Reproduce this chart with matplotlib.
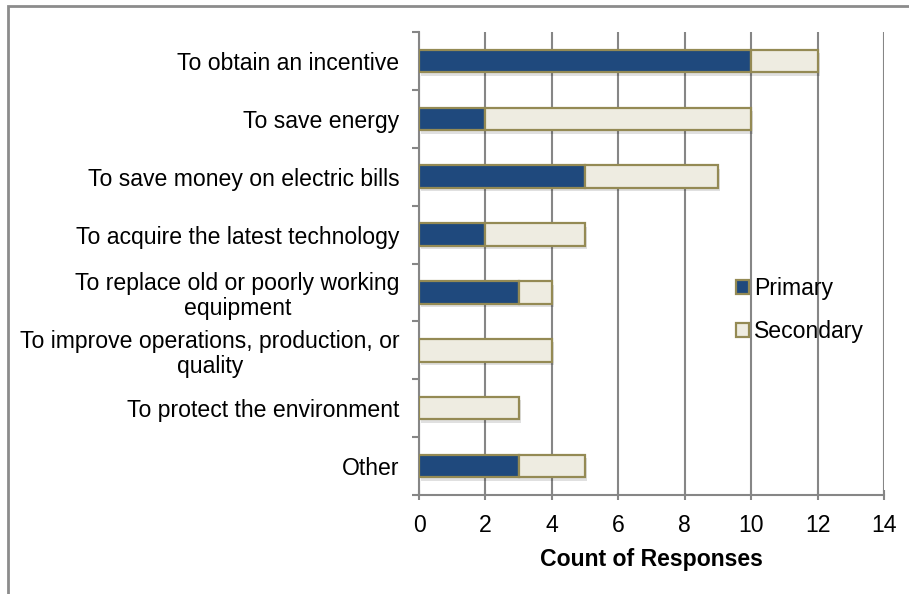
import matplotlib
matplotlib.use("Agg")
import matplotlib.pyplot as plt
from matplotlib.patches import Rectangle
from matplotlib import patheffects as pe

plt.rcParams['font.family'] = ['Liberation Sans', 'DejaVu Sans']

categories = [
    "To obtain an incentive",
    "To save energy",
    "To save money on electric bills",
    "To acquire the latest technology",
    "To replace old or poorly working\nequipment",
    "To improve operations, production, or\nquality",
    "To protect the environment",
    "Other",
]
primary = [10, 2, 5, 2, 3, 0, 0, 3]
secondary = [2, 8, 4, 3, 1, 4, 3, 2]
xticks = [0, 2, 4, 6, 8, 10, 12, 14]

c_primary = "#1F497D"
c_secondary = "#EEECE1"
c_edge = "#948A54"
c_grid = "#868686"
fs = 16.6

fig = plt.figure(figsize=(9.09, 5.94), dpi=100)
ax = fig.add_axes([419 / 909, 1 - 495 / 594, (884 - 419) / 909, (495 - 32) / 594])

ypos = list(range(len(categories)))
shadow = [pe.SimplePatchShadow(offset=(1.5, -2.5), shadow_rgbFace="#000000", alpha=0.12), pe.Normal()]
b1 = ax.barh(ypos, primary, height=0.39, color=c_primary, edgecolor=c_edge,
             linewidth=1.6, label="Primary", zorder=3)
b2 = ax.barh(ypos, secondary, left=primary, height=0.39, color=c_secondary,
             edgecolor=c_edge, linewidth=1.6, label="Secondary", zorder=3)
for bar in list(b1) + list(b2):
    if bar.get_width() > 0:
        bar.set_path_effects(shadow)
    else:
        bar.set_visible(False)

ax.set_ylim(len(categories) - 0.5, -0.5)
ax.set_xlim(0, 14)
ax.set_xticks(xticks)
ax.set_xticklabels([str(v) for v in xticks], fontsize=fs)
ax.set_yticks(ypos)
ax.set_yticklabels(categories, fontsize=fs, multialignment="center", linespacing=1.1)
ax.tick_params(axis="y", length=0, pad=14)
ax.set_yticks([i - 0.5 for i in range(len(categories) + 1)], minor=True)
ax.tick_params(axis="y", which="minor", length=5, width=1.5, color=c_grid, direction="out")
ax.tick_params(axis="x", length=7, width=1.5, color=c_grid, direction="inout", pad=10)

ax.grid(axis="x", color=c_grid, linewidth=1.5, zorder=0)
ax.set_axisbelow(True)
for s in ["top", "right"]:
    ax.spines[s].set_visible(False)
for s in ["left", "bottom"]:
    ax.spines[s].set_color(c_grid)
    ax.spines[s].set_linewidth(1.5)

ax.set_xlabel("Count of Responses", fontsize=fs, fontweight="bold", labelpad=8)

leg = ax.legend(loc="upper left", bbox_to_anchor=(0.637, 0.515), frameon=False,
                fontsize=fs, handlelength=0.55, handleheight=0.55,
                handletextpad=0.25, labelspacing=0.85)
for h in leg.legend_handles:
    h.set_path_effects([])

# outer frame around the chart area
fig.add_artist(Rectangle((8 / 909, -0.1), 1.2, 1.1 - 6 / 594, transform=fig.transFigure,
                         fill=False, edgecolor="#8C8C8C", linewidth=2, clip_on=False))

fig.savefig("out.png", dpi=100)
